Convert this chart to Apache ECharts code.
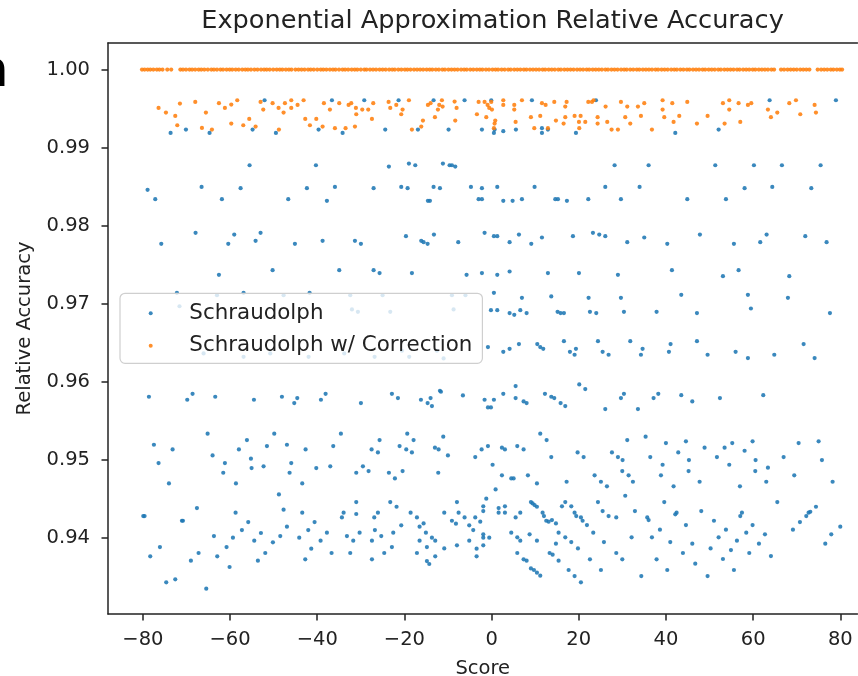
<!DOCTYPE html>
<html>
<head>
<meta charset="utf-8">
<script src="https://cdn.jsdelivr.net/npm/echarts@6/dist/echarts.min.js"></script>
<style>
html,body{margin:0;padding:0;background:#fff;}
#c{width:858px;height:676px;}
</style>
</head>
<body>
<div id="c"></div>
<script>
// ---- chart text ----
const chartTitle = 'Exponential Approximation Relative Accuracy';
const xName = 'Score';
const yName = 'Relative Accuracy';
const seriesNames = ['Schraudolph', 'Schraudolph w/ Correction'];

// ---- axes (the right part of the x range is cropped off in the reference) ----
const xRange = [-88, 83.94];
const yRange = [0.9303, 1.0034];
const xTicks = [-80, -60, -40, -20, 0, 20, 40, 60, 80];
const yTicks = [0.94, 0.95, 0.96, 0.97, 0.98, 0.99, 1.00];

// ---- Schraudolph (blue) [score, relative accuracy] ----
const schraudolphTop = [
[-73.64,0.99189],[-70.12,0.99232],[-64.70,0.99189],[-54.83,0.99232],[-52.08,0.99607],[-49.48,0.99189],[-39.69,0.99232],[-36.63,0.99607],[-34.18,0.99189],[-29.21,0.99607],[-24.40,0.99232],[-21.34,0.99607],[-16.90,0.99232],[-13.31,0.99607],[-9.87,0.99232],[-6.20,0.99607],
[-2.22,0.99232],[-0.08,0.99607],[0.53,0.99189],[0.69,0.99232],[2.68,0.99211],[5.58,0.99232],[9.25,0.99607],[11.55,0.99189],[11.55,0.99249],[12.92,0.99232],[19.35,0.99189],[23.94,0.99607],[42.14,0.99189],[52.08,0.99232],[63.78,0.99607],[78.99,0.99607]
];
const schraudolphHigh = [
[-78.92,0.98460],[-77.16,0.98340],[-66.53,0.98498],[-61.87,0.98340],[-57.58,0.98481],[-55.52,0.98775],[-46.65,0.98340],[-42.37,0.98481],[-40.30,0.98775],[-37.78,0.98319],[-35.94,0.98498],[-27.07,0.98481],[-23.56,0.98758],[-20.73,0.98498],[-19.27,0.98481],[-18.97,0.98797],[-17.51,0.98775],[-14.61,0.98319],[-14.15,0.98319],[-13.31,0.98498],[-11.85,0.98481],[-11.17,0.98797],[-9.64,0.98775],[-9.10,0.98775],[-8.34,0.98758],[-4.74,0.98498],
[28.22,0.98775],[36.02,0.98775],[51.31,0.98775],[60.18,0.98775],[66.60,0.98775],[75.48,0.98775],[-2.22,0.98481],[1.30,0.98498],[9.86,0.98498],[26.08,0.98498],[33.95,0.98498],[58.04,0.98481],[64.39,0.98498],[73.34,0.98481],[-2.98,0.98340],[-2.22,0.98340],[2.68,0.98319],[4.82,0.98319],[6.96,0.98340],[14.61,0.98340],[15.22,0.98340],[17.28,0.98319],[22.18,0.98340],[29.67,0.98340],[44.89,0.98340],[53.76,0.98340],
[-75.78,0.97769],[-67.91,0.97910],[-60.41,0.97769],[-59.04,0.97888],[-54.14,0.97807],[-53.00,0.97910],[-45.12,0.97769],[-38.77,0.97807],[-31.35,0.97807],[-29.98,0.97769],[-19.65,0.97867],[-16.14,0.97807],[-15.60,0.97790],[-14.68,0.97769],[-13.23,0.97888],[-7.65,0.97790],
[-1.61,0.97910],[0.53,0.97867],[1.30,0.97867],[4.13,0.97790],[6.27,0.97888],[9.10,0.97769],[11.55,0.97850],[18.66,0.97867],[23.25,0.97910],[24.70,0.97888],[26.08,0.97867],[31.12,0.97790],[35.02,0.97850],[40.30,0.97769],[47.79,0.97888],[55.59,0.97769],[61.63,0.97790],[63.09,0.97888],[71.96,0.97867],[76.85,0.97790],
[-62.55,0.97372],[-50.24,0.97432],[-34.95,0.97432],[-27.07,0.97432],[-25.70,0.97394],[-18.28,0.97394],[-5.74,0.97372],
[-2.22,0.97394],[1.30,0.97372],[4.13,0.97415],[12.92,0.97394],[20.04,0.97394],[28.98,0.97372],[41.37,0.97432],[53.07,0.97355],[56.66,0.97432],[68.29,0.97355]
];
const schraudolphMid = [
[-72.19,0.97142],[-63.00,0.97112],[-56.90,0.97142],[-47.72,0.97112],[-41.75,0.97142],[-32.43,0.97112],[-25.01,0.97112],[-9.10,0.97112],[-6.00,0.97112],
[0.53,0.97142],[6.96,0.97078],[13.69,0.97095],[22.25,0.97078],[29.67,0.97078],[43.51,0.97116],[58.80,0.97116],[67.98,0.97078],
[-71.60,0.96970],[-32.04,0.96929],[-30.67,0.96899],[-23.25,0.96899],[-8.72,0.96929],
[-0.15,0.96920],[1.30,0.96920],[4.13,0.96882],[5.20,0.96860],[6.58,0.96920],[8.03,0.96882],[15.14,0.96899],[15.83,0.96882],[16.59,0.96882],[22.56,0.96899],[24.01,0.96882],[30.36,0.96899],[37.85,0.96899],[47.11,0.96882],[59.49,0.96941],[77.62,0.96882],
[-66.07,0.96366],[-56.90,0.96323],[-50.78,0.96366],[-41.98,0.96323],[-33.80,0.96366],[-26.84,0.96323],[-20.57,0.96400],[-18.90,0.96323],[-11.01,0.96302],[-12.54,0.96400],
[-0.84,0.96447],[2.68,0.96387],[4.13,0.96425],[6.27,0.96485],[10.48,0.96485],[11.16,0.96447],[11.85,0.96425],[16.59,0.96523],[17.97,0.96387],[19.04,0.96349],[19.35,0.96425],[24.40,0.96523],[25.47,0.96387],[26.84,0.96349],[31.81,0.96523],[34.26,0.96349],[34.64,0.96425],[40.68,0.96387],[41.06,0.96485],[47.11,0.96523],[49.55,0.96349],[55.98,0.96387],[58.80,0.96306],[64.85,0.96349],[71.58,0.96485],[74.10,0.96306],
[-78.61,0.95811],[-69.82,0.95773],[-68.60,0.95849],[-63.40,0.95811],[-54.52,0.95773],[-48.10,0.95811],[-45.27,0.95730],[-44.58,0.95794],[-39.15,0.95773],[-38.08,0.95849],[-29.98,0.95730],[-22.87,0.95849],[-21.49,0.95794],[-16.21,0.95773],[-14.68,0.95730],[-14.00,0.95794],[-13.69,0.95692],[-11.85,0.95888],[-11.62,0.95875],[-6.58,0.95828],
[5.51,0.95948],[2.68,0.95849],[-1.61,0.95773],[-0.84,0.95675],[-0.15,0.95675],[0.53,0.95773],[5.51,0.95794],[7.34,0.95751],[8.03,0.95730],[12.24,0.95849],[13.69,0.95811],[14.38,0.95794],[15.83,0.95730],[16.90,0.95692],[20.11,0.95969],[21.49,0.95909],[26.08,0.95653],[29.67,0.95794],[30.36,0.95849],[33.57,0.95653],[37.16,0.95794],[38.24,0.95849],[43.51,0.95832],[46.04,0.95751],[52.38,0.95794],[62.32,0.95832]
];
const schraudolphLow = [
[-77.47,0.95197],[-76.40,0.94962],[-73.18,0.95137],[-65.15,0.95338],[-64.01,0.95060],[-61.18,0.94962],[-57.97,0.95137],[-56.13,0.95257],[-55.21,0.95018],[-55.06,0.94898],[-52.31,0.94920],[-51.54,0.95180],[-49.86,0.95338],[-46.95,0.95197],[-45.96,0.94962],[-42.67,0.95137],[-40.22,0.94898],[-37.01,0.94920],[-36.33,0.95180],[-34.57,0.95338],[-29.52,0.94920],[-27.53,0.95137],[-26.08,0.95099],[-25.70,0.95257],[-21.11,0.95180],[-19.35,0.95338],[-19.58,0.95137],[-18.28,0.95099],[-17.90,0.95257],[-13.00,0.95159],[-12.16,0.95137],[-11.09,0.95300],[-10.02,0.95060],[-3.75,0.95039],
[11.16,0.95338],[12.62,0.95257],[-2.29,0.95137],[-0.84,0.95180],[0.23,0.94941],[2.37,0.95159],[3.06,0.95137],[5.89,0.95180],[7.34,0.95137],[13.69,0.95039],[19.73,0.95099],[21.11,0.95039],[27.61,0.95099],[28.98,0.95039],[30.05,0.95001],[31.12,0.95257],[35.33,0.95300],[36.40,0.95039],[39.23,0.94941],[39.99,0.95218],[42.82,0.95099],[44.58,0.95240],[45.27,0.95001],[48.86,0.95159],[51.69,0.95039],[53.45,0.95159],[54.52,0.94941],[55.21,0.95218],[58.04,0.95120],[59.87,0.95240],[60.56,0.95001],[63.39,0.94903],[66.99,0.95039],[70.43,0.95218],[75.02,0.95240],[75.78,0.95001],
[-74.02,0.94702],[-61.56,0.94838],[-58.65,0.94702],[-46.34,0.94838],[-43.44,0.94702],[-31.05,0.94838],[-28.22,0.94860],[-23.56,0.94838],[-22.18,0.94766],[-20.42,0.94860],[-12.24,0.94838],
[-48.79,0.94561],[-47.72,0.94365],[-46.95,0.94148],[-48.48,0.94028],[-44.13,0.94007],[-43.44,0.94327],[-42.06,0.94105],[-40.61,0.94207],[-41.37,0.93866],[-39.23,0.93969],[-37.78,0.94071],[-36.71,0.93811],[-42.75,0.93730],[-33.95,0.94327],[-34.34,0.94267],[-33.19,0.94028],[-32.43,0.93811],[-31.74,0.93969],[-31.05,0.94463],[-31.05,0.94310],[-30.28,0.94071],[-27.45,0.93969],[-27.45,0.93730],[-26.92,0.94267],[-26.08,0.94327],[-26.77,0.94105],[-25.31,0.94028],[-24.63,0.93811],[-23.25,0.94463],[-21.80,0.94403],[-22.87,0.93887],[-22.56,0.94071],[-20.73,0.94165],[-18.58,0.94327],[-17.13,0.94267],[-16.52,0.94148],[-15.60,0.94190],[-15.07,0.94071],[-16.52,0.93969],[-17.13,0.93811],[-14.84,0.93887],[-14.84,0.93708],[-14.30,0.93670],[-13.69,0.94007],[-12.93,0.93969],[-12.93,0.93768],[-10.86,0.94327],[-10.86,0.93870],[-7.95,0.94463],[-7.57,0.94327],[-9.10,0.94224],[-8.18,0.94186],[-7.95,0.93909],[-6.20,0.94267],[-5.13,0.94165],[-5.13,0.93969],[-4.21,0.94105],[-3.75,0.94267],[-3.44,0.93866],[-3.44,0.93768],
[-79.91,0.94284],[-79.61,0.94284],[-78.31,0.93768],[-76.09,0.93887],[-74.64,0.93435],[-72.57,0.93474],[-71.04,0.94224],[-70.81,0.94224],[-68.98,0.93713],[-67.60,0.94386],[-67.22,0.93811],[-65.46,0.93354],[-63.70,0.94028],[-62.94,0.93768],[-60.80,0.93887],[-60.11,0.93632],[-59.34,0.94007],[-58.73,0.94327],[-57.28,0.94105],[-55.83,0.94207],[-54.45,0.93969],[-53.61,0.93713],[-52.92,0.94067],[-51.92,0.93811],[-50.17,0.93947],
[2.37,0.94805],[4.51,0.94766],[5.05,0.94766],[8.33,0.94805],[10.40,0.94702],[17.21,0.94723],[23.63,0.94805],[25.08,0.94723],[26.46,0.94664],[29.98,0.94860],[31.43,0.94805],[32.42,0.94723],[38.85,0.94805],[41.75,0.94664],[45.19,0.94860],[47.72,0.94723],[56.97,0.94664],[60.49,0.94860],[63.01,0.94723],[69.43,0.94805],[78.23,0.94723],
[0.92,0.94625],[-1.22,0.94506],[-1.91,0.94408],[-1.91,0.94348],[-2.60,0.94212],[-1.91,0.94050],[-1.91,0.94007],[-0.54,0.94007],[-1.91,0.93909],[1.61,0.94386],[1.61,0.94327],[3.06,0.94408],[3.06,0.94327],[5.51,0.94267],[6.58,0.94327],[4.51,0.94071],[5.89,0.94011],[6.58,0.93969],[5.89,0.93811],[7.34,0.93730],[8.03,0.93713],[8.72,0.94050],[9.02,0.94463],[9.41,0.94446],[9.86,0.94425],[10.40,0.94403],[10.40,0.93969],[11.16,0.93521],[10.40,0.93559],[9.71,0.93593],[9.02,0.93614],[11.70,0.94327],[12.01,0.94284],[12.54,0.94224],[13.08,0.94212],[13.84,0.94233],[14.76,0.94190],[15.37,0.94071],[14.76,0.93930],[13.31,0.93811],[14.00,0.93790],[15.37,0.93713],[16.14,0.94408],[16.90,0.94463],[16.90,0.94011],[18.28,0.94408],[18.28,0.93951],[19.04,0.94327],[19.42,0.94284],[19.81,0.93870],[17.67,0.93593],[19.04,0.93516],[20.49,0.93435],[20.49,0.94267],[20.88,0.94224],[21.87,0.94169],[23.32,0.94071],[22.56,0.93730],[24.40,0.94463],[25.47,0.94348],[26.84,0.94284],[25.77,0.93951],[25.08,0.93593],[28.60,0.94267],[28.60,0.93811],[29.98,0.93730],[30.66,0.94544],[32.12,0.94011],[32.88,0.94348],[34.34,0.93516],[35.71,0.94267],[36.02,0.94233],[36.78,0.94011],[37.85,0.93730],[38.62,0.94109],[39.61,0.94463],[40.30,0.93593],[40.99,0.93951],[42.14,0.94306],[42.44,0.94327],[43.89,0.93811],[44.58,0.94169],[46.04,0.93930],[46.72,0.93674],[48.10,0.94348],[49.55,0.93516],[51.01,0.94224],[50.24,0.93870],[52.08,0.94011],[53.07,0.93734],[53.76,0.94109],[54.91,0.93849],[55.59,0.93593],[56.28,0.93969],[57.05,0.94284],[57.43,0.94327],[58.42,0.94071],[59.11,0.93811],[59.87,0.94169],[61.33,0.93930],[62.71,0.94050],[64.08,0.93772],[65.54,0.94463],[69.13,0.94109],[70.73,0.94207],[72.19,0.94284],[72.72,0.94327],[73.11,0.94339],[74.41,0.94403],[76.55,0.93930],[77.92,0.94050],[79.99,0.94148]
];

// ---- Schraudolph w/ Correction (orange) [score, relative accuracy] ----
const correctedTop = [
[-80.2,1.0],[-79.6,1.0],[-78.9,1.0],[-78.3,1.0],[-77.6,1.0],[-76.8,1.0],[-76.2,1.0],[-75.5,1.0],[-74.4,1.0],[-73.5,1.0],
[-71.4,1.0],[-70.8,1.0],[-70.1,1.0],[-69.3,1.0],[-68.7,1.0],[-68.0,1.0],[-67.2,1.0],[-66.6,1.0],[-65.9,1.0],[-65.1,1.0],[-64.3,1.0],[-63.7,1.0],[-63.0,1.0],[-62.2,1.0],[-61.6,1.0],[-60.8,1.0],[-60.1,1.0],[-59.5,1.0],[-58.7,1.0],[-58.0,1.0],[-57.2,1.0],[-56.5,1.0],[-55.9,1.0],[-55.2,1.0],[-54.4,1.0],[-53.7,1.0],[-52.9,1.0],[-52.2,1.0],[-51.6,1.0],[-50.9,1.0],[-50.1,1.0],[-49.3,1.0],[-48.6,1.0],[-48.0,1.0],[-47.2,1.0],[-46.5,1.0],[-45.9,1.0],[-45.0,1.0],[-44.3,1.0],[-43.6,1.0],[-42.9,1.0],[-42.1,1.0],[-41.5,1.0],[-40.8,1.0],[-40.0,1.0],[-39.2,1.0],[-38.6,1.0],[-37.9,1.0],[-37.1,1.0],[-36.4,1.0],[-35.8,1.0],[-35.0,1.0],[-34.2,1.0],[-33.6,1.0],[-32.9,1.0],[-32.1,1.0],[-31.4,1.0],[-30.8,1.0],[-30.0,1.0],[-29.2,1.0],[-28.7,1.0],[-27.9,1.0],[-27.2,1.0],[-26.5,1.0],[-25.7,1.0],[-25.0,1.0],[-24.3,1.0],[-23.5,1.0],[-22.8,1.0],[-22.2,1.0],[-21.4,1.0],[-20.7,1.0],[-19.9,1.0],[-19.3,1.0],[-18.6,1.0],[-17.8,1.0],[-17.1,1.0],[-16.4,1.0],[-15.7,1.0],[-14.9,1.0],[-14.2,1.0],[-13.6,1.0],[-12.8,1.0],[-12.1,1.0],[-11.3,1.0],[-10.7,1.0],[-9.9,1.0],[-9.2,1.0],[-8.5,1.0],[-7.8,1.0],[-7.0,1.0],[-6.3,1.0],[-5.7,1.0],[-4.9,1.0],[-4.2,1.0],[-3.4,1.0],[-2.7,1.0],[-2.1,1.0],[-1.3,1.0],[-0.6,1.0],
[0.2,1.0],[0.9,1.0],[1.5,1.0],[2.3,1.0],[3.0,1.0],[3.8,1.0],[4.4,1.0],[5.2,1.0],[5.9,1.0],[6.6,1.0],[7.4,1.0],[8.0,1.0],[8.8,1.0],[9.5,1.0],[10.2,1.0],[10.9,1.0],[11.7,1.0],[12.3,1.0],[13.1,1.0],[13.8,1.0],[14.5,1.0],[15.3,1.0],[15.9,1.0],[16.7,1.0],[17.4,1.0],[18.1,1.0],[18.8,1.0],[19.6,1.0],[20.3,1.0],[21.0,1.0],[21.8,1.0],[22.4,1.0],[23.2,1.0],[23.9,1.0],[24.6,1.0],[25.3,1.0],[26.1,1.0],[26.7,1.0],[27.5,1.0],[28.2,1.0],[28.9,1.0],[29.7,1.0],[30.4,1.0],[31.0,1.0],[31.8,1.0],[32.5,1.0],[33.3,1.0],[33.9,1.0],[34.7,1.0],[35.4,1.0],[36.1,1.0],[36.8,1.0],[37.6,1.0],[38.2,1.0],[39.0,1.0],[39.7,1.0],[40.4,1.0],[41.2,1.0],[41.9,1.0],[42.5,1.0],[43.3,1.0],[44.0,1.0],[44.8,1.0],[45.4,1.0],[46.2,1.0],[46.9,1.0],[47.6,1.0],[48.4,1.0],[49.0,1.0],[49.8,1.0],[50.5,1.0],[51.2,1.0],[52.0,1.0],[52.6,1.0],[53.4,1.0],[54.1,1.0],[54.8,1.0],[55.5,1.0],[56.3,1.0],[56.9,1.0],[57.7,1.0],[58.4,1.0],[59.1,1.0],[59.9,1.0],[60.5,1.0],[61.3,1.0],[62.0,1.0],[62.7,1.0],[63.4,1.0],[64.2,1.0],[64.8,1.0],
[66.4,1.0],[67.1,1.0],[67.9,1.0],[68.6,1.0],[69.3,1.0],[70.0,1.0],[70.8,1.0],[71.5,1.0],[72.2,1.0],[72.9,1.0],
[74.8,1.0],[75.6,1.0],[76.3,1.0],[77.0,1.0],[77.8,1.0],[78.4,1.0],[79.2,1.0],[79.9,1.0],[80.4,1.0]
];
const correctedBand = [
[-76.40,0.99509],[-74.71,0.99449],[-72.57,0.99407],[-72.11,0.99287],[-71.50,0.99565],[-67.98,0.99586],[-66.45,0.99253],[-65.54,0.99449],[-64.16,0.99232],[-62.55,0.99569],[-61.18,0.99509],[-59.72,0.99552],[-59.72,0.99309],[-58.35,0.99607],[-56.97,0.99287],[-55.60,0.99368],[-54.14,0.99270],[-53.00,0.99586],[-52.38,0.99488],[-50.24,0.99569],[-48.87,0.99509],[-48.79,0.99232],[-47.72,0.99449],[-47.41,0.99569],[-45.96,0.99607],[-45.96,0.99509],[-44.51,0.99547],[-43.13,0.99607],[-42.75,0.99368],[-41.68,0.99287],[-40.22,0.99368],[-38.77,0.99270],[-38.47,0.99569],[-37.09,0.99488],[-35.94,0.99249],[-34.95,0.99569],[-33.50,0.99249],[-32.81,0.99547],[-32.20,0.99569],[-31.35,0.99270],[-31.05,0.99428],[-31.13,0.99509],[-29.67,0.99488],[-28.30,0.99488],[-27.45,0.99368],[-27.15,0.99569],[-23.63,0.99586],[-23.25,0.99509],[-21.87,0.99547],[-20.73,0.99428],[-20.42,0.99488],[-18.97,0.99607],[-18.28,0.99232],[-16.14,0.99270],[-15.75,0.99347],[-14.61,0.99547],[-14.00,0.99569],[-13.00,0.99390],[-12.31,0.99488],[-12.01,0.99547],[-11.40,0.99607],[-11.24,0.99526],[-8.49,0.99590],[-8.34,0.99347],[-8.03,0.99509],
[-3.37,0.99428],[-2.98,0.99586],[-1.61,0.99586],[-1.22,0.99390],[-0.92,0.99547],[-0.54,0.99509],[0.08,0.99488],[-0.08,0.99586],[0.69,0.99309],[0.84,0.99347],[0.53,0.99249],[2.68,0.99607],[2.68,0.99547],[5.20,0.99547],[5.20,0.99488],[5.51,0.99330],[6.96,0.99607],[9.02,0.99390],[9.79,0.99249],[11.16,0.99407],[11.55,0.99569],[12.39,0.99547],[12.92,0.99249],[14.38,0.99586],[14.76,0.99347],[16.52,0.99309],[16.90,0.99390],[17.21,0.99586],[16.90,0.99526],[19.04,0.99407],[20.11,0.99249],[20.42,0.99407],[20.04,0.99330],[21.49,0.99330],[22.18,0.99586],[23.02,0.99586],[23.40,0.99607],[24.32,0.99390],[24.32,0.99309],[26.15,0.99526],[26.53,0.99330],[27.53,0.99232],[28.98,0.99232],[29.67,0.99586],[30.66,0.99390],[31.12,0.99526],[31.81,0.99309],[33.57,0.99526],[34.26,0.99407],[35.02,0.99569],[36.78,0.99232],[39.23,0.99607],[39.23,0.99488],[39.61,0.99390],[41.45,0.99569],[41.75,0.99330],[43.05,0.99407],[44.89,0.99586],[47.11,0.99309],[49.55,0.99407],[53.07,0.99569],[53.45,0.99309],[54.52,0.99607],[54.52,0.99488],[56.66,0.99569],[57.05,0.99330],[58.80,0.99547],[59.57,0.99569],[63.39,0.99488],[64.08,0.99390],[65.54,0.99449],[68.29,0.99569],[69.82,0.99607],[70.81,0.99428],[74.10,0.99547],[74.41,0.99449]
];

const FONT = '"DejaVu Sans", sans-serif';
const INK = '#222222';
const BLUE = '#1f77b4';
const ORANGE = '#ff7f0e';

const chart = echarts.init(document.getElementById('c'), null, {renderer: 'canvas'});

const spine = {show: true, onZero: false, lineStyle: {color: INK, width: 1.5}};
const tick = {show: true, length: 6.5, lineStyle: {color: INK, width: 1.5}};
const nameStyle = {fontFamily: FONT, fontSize: 19.5, color: INK};

chart.setOption({
  animation: false,
  backgroundColor: '#ffffff',
  title: {
    text: chartTitle, left: 487.5, textAlign: 'center', top: 3,
    textStyle: {fontFamily: FONT, fontSize: 25.6, fontWeight: 'normal', color: INK}
  },
  grid: {left: 108, top: 43, width: 749.5, height: 571, show: false, outerBoundsMode: 'none'},
  xAxis: [{
    type: 'value', position: 'bottom', min: xRange[0], max: xRange[1],
    splitLine: {show: false},
    axisLine: spine,
    axisTick: Object.assign({}, tick, {customValues: xTicks}),
    axisLabel: {customValues: xTicks, fontFamily: FONT, fontSize: 19.5, color: INK, margin: 16,
      formatter: v => (v < 0 ? '\u2212' + Math.abs(v) : String(v))},
    name: xName, nameLocation: 'middle', nameGap: 45, nameTextStyle: nameStyle
  }, {
    type: 'value', position: 'top', min: xRange[0], max: xRange[1],
    splitLine: {show: false}, axisLine: spine, axisTick: {show: false}, axisLabel: {show: false}
  }],
  yAxis: {
    type: 'value', position: 'left', min: yRange[0], max: yRange[1],
    splitLine: {show: false},
    axisLine: spine,
    axisTick: Object.assign({}, tick, {customValues: yTicks}),
    axisLabel: {customValues: yTicks, fontFamily: FONT, fontSize: 19.5, color: INK, margin: 18,
      formatter: v => v.toFixed(2)},
    name: yName, nameLocation: 'middle', nameGap: 73, nameTextStyle: nameStyle
  },
  legend: {
    left: 120, top: 293.3, orient: 'vertical',
    padding: [9, 10, 6.6, 28.7],
    itemWidth: 35.3, itemHeight: 4, itemGap: 10.4,
    icon: 'circle',
    backgroundColor: 'rgba(255,255,255,0.8)',
    borderColor: '#cfcfcf', borderWidth: 1.2, borderRadius: 5,
    formatter: name => '{gap|}' + name,
    textStyle: {fontFamily: FONT, fontSize: 21.4, color: INK, lineHeight: 22,
      rich: {gap: {width: 16, fontSize: 21.4, lineHeight: 22}}},
    data: seriesNames
  },
  graphic: [{
    type: 'text', x: -23, y: 73, z: 100,
    style: {text: 'n', font: '50px "DejaVu Sans"', fill: '#000', verticalAlign: 'middle'}
  }],
  series: [
    {
      name: seriesNames[0], type: 'scatter', symbol: 'circle', symbolSize: 4.2,
      itemStyle: {color: BLUE, opacity: 0.88},
      data: schraudolphTop.concat(schraudolphHigh, schraudolphMid, schraudolphLow),
      z: 2
    },
    {
      name: seriesNames[1], type: 'scatter', symbol: 'circle', symbolSize: 4.2,
      itemStyle: {color: ORANGE, opacity: 0.88},
      data: correctedTop.concat(correctedBand),
      z: 3
    }
  ]
});
</script>
</body>
</html>
